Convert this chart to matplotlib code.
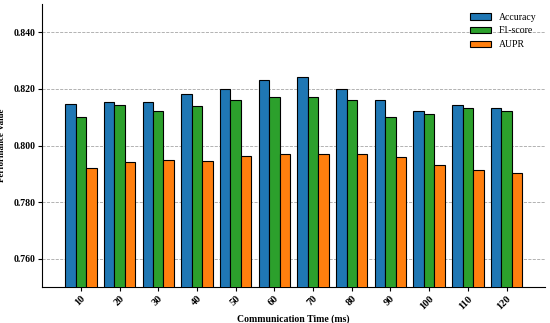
import numpy as np
import matplotlib.pyplot as plt

plt.rcParams['font.family'] = ['Liberation Serif', 'DejaVu Serif']

times = ['10', '20', '30', '40', '50', '60', '70', '80', '90', '100', '110', '120']
accuracy = [0.8148, 0.8153, 0.8153, 0.8181, 0.8200, 0.8232, 0.8242, 0.8200, 0.8162, 0.8121, 0.8142, 0.8132]
f1_score = [0.8101, 0.8142, 0.8121, 0.8141, 0.8161, 0.8172, 0.8171, 0.8161, 0.8100, 0.8112, 0.8132, 0.8121]
aupr = [0.7921, 0.7941, 0.7950, 0.7946, 0.7962, 0.7971, 0.7971, 0.7971, 0.7961, 0.7932, 0.7912, 0.7902]

x = np.arange(len(times))
width = 0.27

fig, ax = plt.subplots(figsize=(5.5, 3.23), dpi=100)
fig.subplots_adjust(left=0.077, right=0.991, bottom=0.111, top=0.988)

ax.bar(x - width, accuracy, width, color='#1f77b4', edgecolor='black', linewidth=0.8, label='Accuracy', zorder=3)
ax.bar(x, f1_score, width, color='#2ca02c', edgecolor='black', linewidth=0.8, label='F1-score', zorder=3)
ax.bar(x + width, aupr, width, color='#ff7f0e', edgecolor='black', linewidth=0.8, label='AUPR', zorder=3)

ax.set_ylim(0.75, 0.85)
ax.set_yticks([0.76, 0.78, 0.80, 0.82, 0.84])
ax.yaxis.set_major_formatter(plt.FormatStrFormatter('%.3f'))
ax.set_xticks(x)
ax.set_xticklabels(times, rotation=45, ha='right', rotation_mode='anchor', fontsize=7.5, fontweight='bold')
ax.tick_params(axis='x', pad=2, length=3)
ax.tick_params(axis='y', pad=2, length=3)
for lbl in ax.get_yticklabels():
    lbl.set_fontweight('bold')
    lbl.set_fontsize(7)

ax.set_xlabel('Communication Time (ms)', fontsize=7, fontweight='bold', labelpad=2)
ax.set_ylabel('Performance Value', fontsize=6.5, fontweight='bold', labelpad=5)

ax.grid(axis='y', linestyle='--', color='gray', linewidth=0.6, alpha=0.7, zorder=0)
ax.spines['top'].set_visible(False)
ax.spines['right'].set_visible(False)

ax.legend(loc='upper right', frameon=False, fontsize=7, handlelength=2.2)

plt.savefig('out.png', dpi=100)
